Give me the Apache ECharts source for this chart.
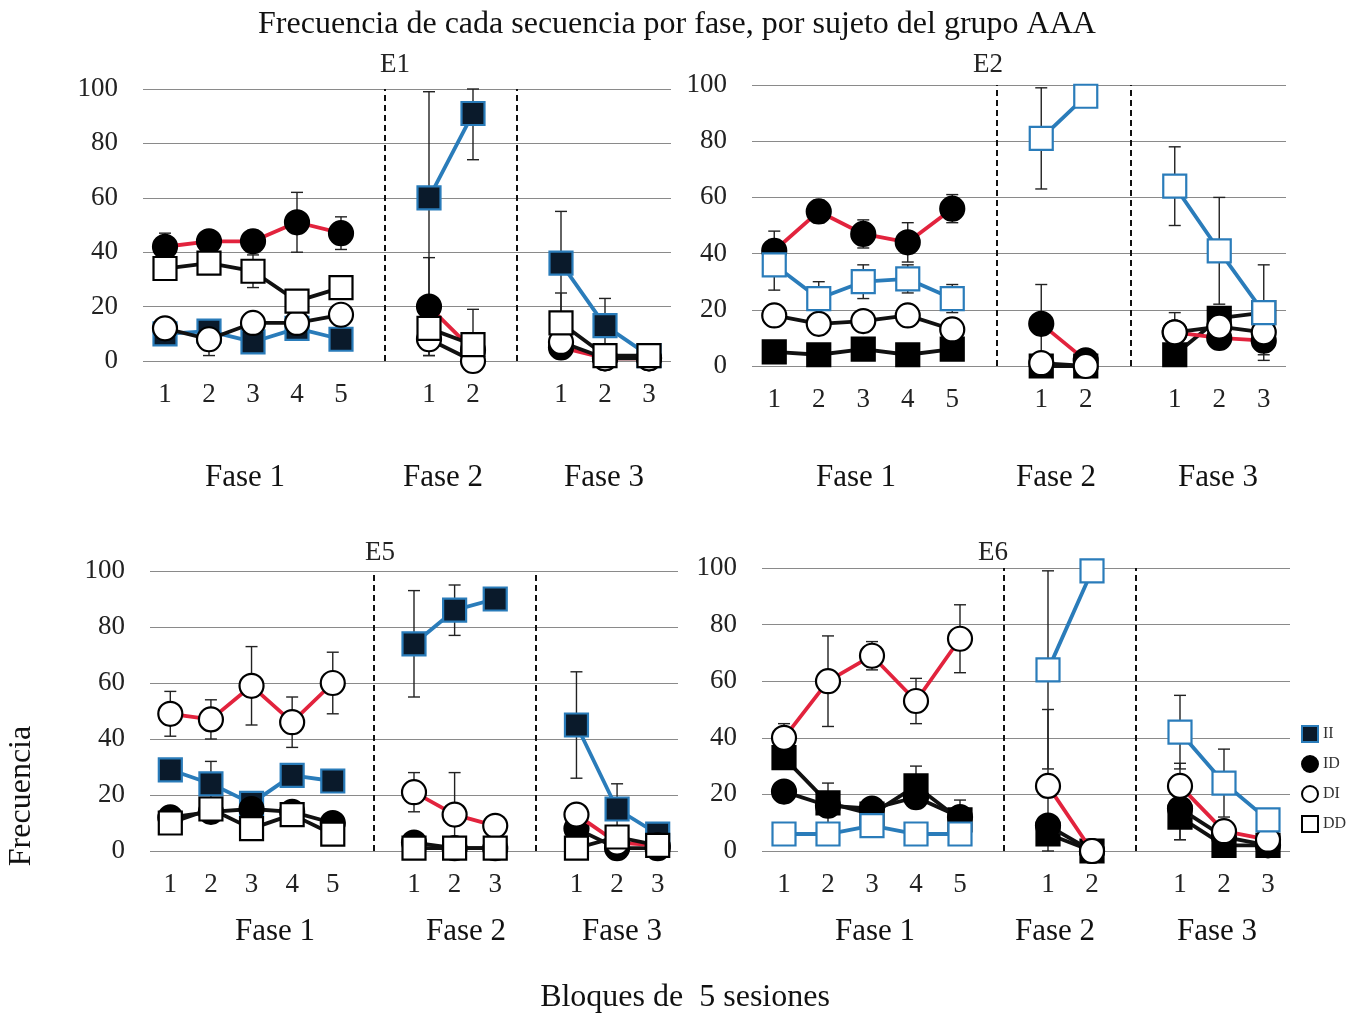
<!DOCTYPE html>
<html><head><meta charset="utf-8">
<script src="https://cdn.jsdelivr.net/npm/echarts@6/dist/echarts.min.js"></script>
<style>html,body{margin:0;padding:0;background:#fff}#c{width:1364px;height:1015px}</style>
</head><body><div id="c"></div>
<script>
// ---------------- DATA ----------------
const SEQS = ['II', 'ID', 'DI', 'DD'];
const PHASES = ['Fase 1', 'Fase 2', 'Fase 3'];

// tick labels per phase (block numbers)
const TICKS_522 = [['1','2','3','4','5'], ['1','2'], ['1','2','3']];
const TICKS_533 = [['1','2','3','4','5'], ['1','2','3'], ['1','2','3']];

// E1 values per phase
const E1_II = [[10, 11, 7, 12, 8], [60, 91], [36, 13, 2]];
const E1_ID = [[42, 44, 44, 51, 47], [20, 4], [5, 1, 1]];
const E1_DI = [[12, 8, 14, 14, 17], [8, 0], [7, 1, 1]];
const E1_DD = [[34, 36, 33, 22, 27], [12, 6], [14, 2, 2]];
// E1 error bars (symmetric, null = none visible)
const E1_II_ERR = [[null, null, null, null, null], [39, 17], [19, 10, null]];
const E1_ID_ERR = [[5, null, 4, 11, 6], [18, null], [null, null, null]];
const E1_DI_ERR = [[null, 6, null, null, null], [6, null], [null, null, null]];
const E1_DD_ERR = [[null, null, 6, null, null], [null, 13], [11, null, null]];

// E2
const E2_II = [[5, 4, 6, 4, 6], [0, 0], [4, 17, 19]];
const E2_ID = [[41, 55, 47, 44, 56], [15, 2], [12, 10, 9]];
const E2_DI = [[18, 15, 16, 18, 13], [1, 0], [12, 14, 12]];
const E2_DD = [[36, 24, 30, 31, 24], [81, 96], [64, 41, 19]];
const E2_II_ERR = [[null, null, null, null, null], [null, null], [null, null, null]];
const E2_ID_ERR = [[7, 4, 5, 7, 5], [14, null], [null, null, 5]];
const E2_DI_ERR = [[null, null, null, null, null], [null, null], [7, null, null]];
const E2_DD_ERR = [[9, 6, 6, 5, 5], [18, null], [14, 19, 17]];

// E5
const E5_II = [[29, 24, 17, 27, 25], [74, 86, 90], [45, 15, 6]];
const E5_ID = [[12, 14, 15, 14, 10], [3, 1, 1], [8, 1, 1]];
const E5_DI = [[49, 47, 59, 46, 60], [21, 13, 9], [13, 3, 2]];
const E5_DD = [[10, 15, 8, 13, 6], [1, 1, 1], [1, 5, 2]];
const E5_II_ERR = [[null, 8, null, null, null], [19, 9, null], [19, 9, null]];
const E5_ID_ERR = [[null, null, null, null, null], [null, null, null], [null, null, null]];
const E5_DI_ERR = [[8, 7, 14, 9, 11], [7, 15, null], [null, null, null]];
const E5_DD_ERR = [[null, null, null, null, null], [null, null, null], [null, null, null]];

// E6
const E6_II = [[33, 17, 13, 23, 11], [6, 0], [12, 2, 2]];
const E6_ID = [[21, 16, 15, 19, 12], [9, 0], [15, 5, 2]];
const E6_DI = [[40, 60, 69, 53, 75], [23, 0], [23, 7, 4]];
const E6_DD = [[6, 6, 9, 6, 6], [64, 99], [42, 24, 11]];
const E6_II_ERR = [[null, 7, null, 7, 7], [null, null], [8, null, null]];
const E6_ID_ERR = [[null, null, null, null, null], [null, null], [11, null, null]];
const E6_DI_ERR = [[5, 16, 5, 8, 12], [27, null], [8, null, null]];
const E6_DD_ERR = [[null, null, null, null, null], [35, null], [13, 12, null]];

// ---------------- STYLE ----------------
const RED = '#e2233d', BLUE = '#2a7cba', BLACK = '#111111', NAVY = '#0a1a2b';
const SERIF = '"Liberation Serif", "Times New Roman", serif';

const panels = [
  { name: 'E1', ticks: TICKS_522,
    vals: { II: E1_II, ID: E1_ID, DI: E1_DI, DD: E1_DD },
    errs: { II: E1_II_ERR, ID: E1_ID_ERR, DI: E1_DI_ERR, DD: E1_DD_ERR },
    line: { II: BLUE, ID: RED, DI: BLACK, DD: BLACK },
    grid: { left: 143, top: 89, width: 528, height: 272 },
    label: [395, 65], fase: [[245, 478], [443, 478], [604, 478]] },
  { name: 'E2', ticks: TICKS_522,
    vals: { II: E2_II, ID: E2_ID, DI: E2_DI, DD: E2_DD },
    errs: { II: E2_II_ERR, ID: E2_ID_ERR, DI: E2_DI_ERR, DD: E2_DD_ERR },
    line: { II: BLACK, ID: RED, DI: BLACK, DD: BLUE },
    grid: { left: 752, top: 85, width: 534, height: 281 },
    label: [988, 65], fase: [[856, 478], [1056, 478], [1218, 478]] },
  { name: 'E5', ticks: TICKS_533,
    vals: { II: E5_II, ID: E5_ID, DI: E5_DI, DD: E5_DD },
    errs: { II: E5_II_ERR, ID: E5_ID_ERR, DI: E5_DI_ERR, DD: E5_DD_ERR },
    line: { II: BLUE, ID: BLACK, DI: RED, DD: BLACK },
    grid: { left: 150, top: 571, width: 528, height: 280 },
    label: [380, 553], fase: [[275, 932], [466, 932], [622, 932]] },
  { name: 'E6', ticks: TICKS_522,
    vals: { II: E6_II, ID: E6_ID, DI: E6_DI, DD: E6_DD },
    errs: { II: E6_II_ERR, ID: E6_ID_ERR, DI: E6_DI_ERR, DD: E6_DD_ERR },
    line: { II: BLACK, ID: BLACK, DI: RED, DD: BLUE },
    grid: { left: 762, top: 568, width: 528, height: 283 },
    label: [993, 553], fase: [[875, 932], [1055, 932], [1217, 932]] }
];

function joinPhases(arr) {
  const out = [];
  arr.forEach((ph, i) => { if (i > 0) out.push(null); ph.forEach(v => out.push(v)); });
  return out;
}
function joinTicks(t) {
  const out = [];
  t.forEach((ph, i) => { if (i > 0) out.push(' '.repeat(i)); ph.forEach(v => out.push(v)); });
  return out;
}
function markerStyle(seq, lineColor) {
  if (seq === 'II') return { symbol: 'rect', color: lineColor === BLUE ? NAVY : '#000', border: lineColor === BLUE ? BLUE : '#000' };
  if (seq === 'ID') return { symbol: 'circle', color: '#000', border: '#000' };
  if (seq === 'DI') return { symbol: 'circle', color: '#fff', border: '#000' };
  return { symbol: 'rect', color: '#fff', border: lineColor === BLUE ? BLUE : '#000' };
}
function renderErr(params, api) {
  const x = api.value(0), v = api.value(1), e = api.value(2);
  const hi = Math.min(100, v + e), lo = Math.max(0, v - e);
  const p1 = api.coord([x, hi]), p2 = api.coord([x, lo]);
  const w = 6, st = { stroke: '#222', lineWidth: 1.4 };
  return { type: 'group', children: [
    { type: 'line', shape: { x1: p1[0], y1: p1[1], x2: p2[0], y2: p2[1] }, style: st },
    { type: 'line', shape: { x1: p1[0] - w, y1: p1[1], x2: p1[0] + w, y2: p1[1] }, style: st },
    { type: 'line', shape: { x1: p2[0] - w, y1: p2[1], x2: p2[0] + w, y2: p2[1] }, style: st }
  ]};
}

const grids = [], xAxes = [], yAxes = [], series = [], graphics = [];
panels.forEach((p, pi) => {
  grids.push(Object.assign({ containLabel: false }, p.grid));
  const cats = joinTicks(p.ticks);
  const gap2 = p.ticks[0].length + 1 + p.ticks[1].length;
  xAxes.push({ type: 'category', gridIndex: pi, data: cats, boundaryGap: true,
    axisLine: { show: false }, axisTick: { show: false }, splitLine: { show: false },
    axisLabel: { interval: 0, fontSize: 27, fontFamily: SERIF, color: '#222', margin: 20 } });
  yAxes.push({ type: 'value', gridIndex: pi, min: 0, max: 100, interval: 20,
    axisLine: { show: false }, axisTick: { show: false },
    splitLine: { lineStyle: { color: '#8a8a8a', width: 1.2 } },
    axisLabel: { fontSize: 27, fontFamily: SERIF, color: '#222', margin: 25 } });

  // error bars (below markers)
  const errData = [];
  SEQS.forEach(s => {
    let off = 0;
    p.vals[s].forEach((ph, k) => {
      ph.forEach((v, j) => {
        const e = p.errs[s][k][j];
        if (e != null) errData.push([off + j, v, e]);
      });
      off += ph.length + 1;
    });
  });
  series.push({ type: 'custom', name: 'err' + p.name, xAxisIndex: pi, yAxisIndex: pi,
    renderItem: renderErr, data: errData, z: 1, silent: true,
    markLine: { silent: true, symbol: ['none', 'none'], animation: false,
      lineStyle: { type: [6, 4], color: '#111', width: 2 }, label: { show: false },
      data: [{ xAxis: p.ticks[0].length }, { xAxis: gap2 }] } });

  SEQS.forEach((s, si) => {
    const lc = p.line[s];
    const m = markerStyle(s, lc);
    series.push({ type: 'line', name: s, xAxisIndex: pi, yAxisIndex: pi,
      data: joinPhases(p.vals[s]), connectNulls: false,
      symbol: m.symbol, symbolSize: m.symbol === 'rect' ? 23 : 24,
      lineStyle: { color: lc, width: 3.8 },
      itemStyle: { color: m.color, borderColor: m.border, borderWidth: 2.2 },
      z: 2 + si, emphasis: { disabled: true } });
  });

  graphics.push({ type: 'text', x: p.label[0], y: p.label[1],
    style: { text: p.name, font: '27px ' + SERIF, fill: '#222', align: 'center', verticalAlign: 'middle' } });
  p.fase.forEach((f, k) => graphics.push({ type: 'text', x: f[0], y: f[1],
    style: { text: PHASES[k], font: '31px ' + SERIF, fill: '#111', align: 'center', verticalAlign: 'middle' } }));
});

graphics.push({ type: 'text', x: 677, y: 25,
  style: { text: 'Frecuencia de cada secuencia por fase, por sujeto del grupo AAA', font: '32px ' + SERIF, fill: '#111', align: 'center', verticalAlign: 'middle' } });
graphics.push({ type: 'text', x: 685, y: 998,
  style: { text: 'Bloques de  5 sesiones', font: '32px ' + SERIF, fill: '#111', align: 'center', verticalAlign: 'middle' } });
graphics.push({ type: 'text', x: 22, y: 796, rotation: Math.PI / 2,
  style: { text: 'Frecuencia', font: '32px ' + SERIF, fill: '#111', align: 'center', verticalAlign: 'middle' } });

const chart = echarts.init(document.getElementById('c'), null, { renderer: 'canvas' });
chart.setOption({
  animation: false,
  backgroundColor: '#fff',
  grid: grids, xAxis: xAxes, yAxis: yAxes, series: series, graphic: graphics,
  legend: { orient: 'vertical', left: 1296, top: 720, itemWidth: 16, itemHeight: 16, itemGap: 12,
    textStyle: { fontSize: 16, fontFamily: SERIF, color: '#333' },
    data: [{ name: 'II', icon: 'rect' }, { name: 'ID', icon: 'circle' }, { name: 'DI', icon: 'circle' }, { name: 'DD', icon: 'rect' }] }
});
</script></body></html>
